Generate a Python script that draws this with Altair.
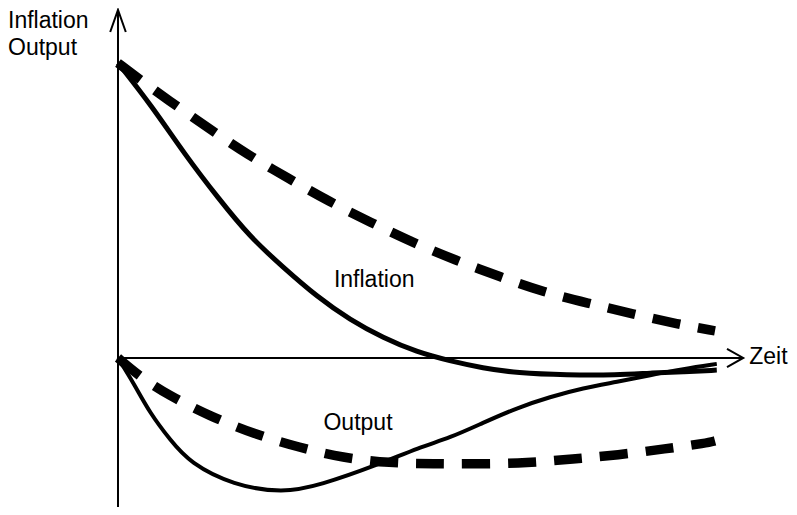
import altair as alt
import pandas as pd

# Time values (t) and levels (v)
infl_solid_t = [0, 0.55, 1.12, 1.67, 2.2, 2.75, 3.32, 3.87, 4.42, 4.98, 5.53, 6.08, 6.65, 7.48, 8.32, 8.87, 9.42, 9.98]
infl_solid_v = [1.0, 0.858, 0.688, 0.542, 0.410, 0.308, 0.207, 0.129, 0.068, 0.020, -0.010, -0.034, -0.051, -0.058, -0.058, -0.051, -0.047, -0.041]

infl_dash_t = [0, 0.38, 0.83, 1.48, 2.17, 2.83, 3.53, 4.2, 4.93, 5.62, 6.37, 7.08, 7.83, 8.58, 9.33, 9.95]
infl_dash_v = [1.0, 0.942, 0.875, 0.783, 0.688, 0.610, 0.529, 0.461, 0.390, 0.332, 0.275, 0.224, 0.186, 0.149, 0.115, 0.092]

out_solid_t = [0, 0.28, 0.53, 0.87, 1.2, 1.92, 2.75, 3.37, 4.32, 5.03, 5.53, 6.08, 6.65, 7.2, 7.75, 8.32, 8.87, 9.42, 9.98]
out_solid_v = [0, -0.092, -0.186, -0.278, -0.356, -0.431, -0.458, -0.431, -0.363, -0.302, -0.271, -0.220, -0.169, -0.132, -0.102, -0.081, -0.058, -0.037, -0.020]

out_dash_t = [0, 0.37, 0.83, 1.53, 2.27, 3.0, 3.75, 4.53, 5.25, 6.03, 6.82, 7.58, 8.33, 9.12, 9.82, 9.95]
out_dash_v = [0, -0.064, -0.125, -0.197, -0.258, -0.302, -0.339, -0.356, -0.359, -0.359, -0.356, -0.342, -0.329, -0.308, -0.288, -0.281]

# Axis frame (arrows), in the same data units
axis_group = ["y", "y", "x", "x", "ya", "ya", "ya", "xa", "xa", "xa"]
axis_k = [0, 1, 0, 1, 0, 1, 2, 0, 1, 2]
axis_t = [0, 0, 0, 10.42, -0.13, 0, 0.13, 10.15, 10.42, 10.15]
axis_v = [-0.505, 1.18, 0, 0, 1.105, 1.18, 1.105, 0.031, 0, -0.031]

# Labels
label_text = ["Inflation", "Output", "Zeit"]
label_t = [4.27, 4.0, 10.52]
label_v = [0.241, -0.244, -0.020]
corner_text = ["Inflation", "Output"]
corner_v = [1.119, 1.027]

X_DOMAIN = [-1.8333, 11.1833]
Y_DOMAIN = [-0.5051, 1.1864]

xs = alt.Scale(domain=X_DOMAIN, nice=False, zero=False)
ys = alt.Scale(domain=Y_DOMAIN, nice=False, zero=False)


def line_df(t, v):
    return pd.DataFrame({"t": t, "v": v, "k": list(range(len(t)))})


def curve(t, v, width, dash=None):
    kw = dict(color="black", strokeWidth=width, interpolate="basis", strokeCap="butt")
    if dash:
        kw["strokeDash"] = dash
    return alt.Chart(line_df(t, v)).mark_line(**kw).encode(
        x=alt.X("t:Q", scale=xs, axis=None),
        y=alt.Y("v:Q", scale=ys, axis=None),
        order=alt.Order("k:Q"),
    )


axis_df = pd.DataFrame({"g": axis_group, "k": axis_k, "t": axis_t, "v": axis_v})
axes = alt.Chart(axis_df).mark_line(color="black", strokeWidth=2).encode(
    x=alt.X("t:Q", scale=xs, axis=None),
    y=alt.Y("v:Q", scale=ys, axis=None),
    detail="g:N",
    order=alt.Order("k:Q"),
)

lab_df = pd.DataFrame({"txt": label_text, "t": label_t, "v": label_v})
labels_c = alt.Chart(lab_df.iloc[:2]).mark_text(
    font="Liberation Sans", fontSize=23, color="black", align="center", baseline="alphabetic"
).encode(x=alt.X("t:Q", scale=xs, axis=None), y=alt.Y("v:Q", scale=ys, axis=None), text="txt:N")
labels_l = alt.Chart(lab_df.iloc[2:]).mark_text(
    font="Liberation Sans", fontSize=23, color="black", align="left", baseline="alphabetic"
).encode(x=alt.X("t:Q", scale=xs, axis=None), y=alt.Y("v:Q", scale=ys, axis=None), text="txt:N")

corner_df = pd.DataFrame({"txt": corner_text, "t": [X_DOMAIN[0]] * 2, "v": corner_v})
corner = alt.Chart(corner_df).mark_text(
    font="Liberation Sans", fontSize=23, color="black", align="left", baseline="alphabetic"
).encode(x=alt.X("t:Q", scale=xs, axis=None), y=alt.Y("v:Q", scale=ys, axis=None), text="txt:N")

chart = alt.layer(
    axes,
    curve(infl_dash_t, infl_dash_v, 9.5, [28, 18]),
    curve(out_dash_t, out_dash_v, 9.5, [28, 18]),
    curve(infl_solid_t, infl_solid_v, 5),
    curve(out_solid_t, out_solid_v, 4),
    labels_c,
    labels_l,
    corner,
).properties(
    width=781, height=499, padding=0, autosize=alt.AutoSizeParams(type="none"), background="white"
).configure_view(stroke=None)

chart.save("out.html", embed_options={"renderer": "svg", "actions": False})
